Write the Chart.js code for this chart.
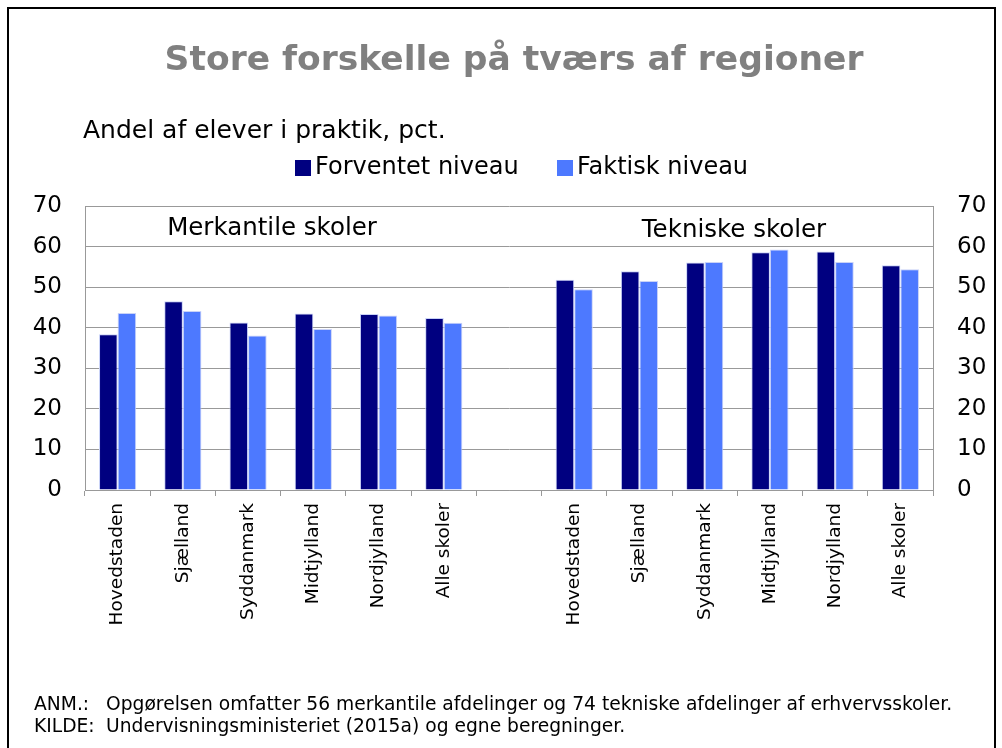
<!DOCTYPE html>
<html>
<head>
<meta charset="utf-8">
<script src="https://cdn.jsdelivr.net/npm/chart.js@4.4.1/dist/chart.umd.min.js"></script>
<style>
  html, body { margin: 0; padding: 0; background: #fff; }
  #wrap { width: 1002px; height: 748px; }
</style>
</head>
<body>
<div id="wrap"><canvas id="chart" width="1002" height="748"></canvas></div>
<script>
var categories = [
  "Hovedstaden", "Sjælland", "Syddanmark", "Midtjylland", "Nordjylland", "Alle skoler",
  "",
  "Hovedstaden", "Sjælland", "Syddanmark", "Midtjylland", "Nordjylland", "Alle skoler"
];
var forventet = [38.4, 46.5, 41.3, 43.5, 43.4, 42.4, null, 51.8, 53.9, 56.1, 58.6, 58.8, 55.4];
var faktisk = [43.6, 44.1, 38.1, 39.7, 43.0, 41.2, null, 49.5, 51.5, 56.2, 59.3, 56.2, 54.4];
var seriesNames = ["Forventet niveau", "Faktisk niveau"];
var seriesColors = ["#000080", "#4d79ff"];
var groupLabels = ["Merkantile skoler", "Tekniske skoler"];
var yMin = 0, yMax = 70, yStep = 10;

var titleText = "Store forskelle på tværs af regioner";
var subtitleText = "Andel af elever i praktik, pct.";
var notes = [
  ["ANM.:", "Opgørelsen omfatter 56 merkantile afdelinger og 74 tekniske afdelinger af erhvervsskoler."],
  ["KILDE:", "Undervisningsministeriet (2015a) og egne beregninger."]
];

var FONT = "'DejaVu Sans', Verdana, sans-serif";

// draws title, legend, group labels, notes and the frame
var decorations = {
  id: "decorations",
  afterDraw: function (chart) {
    var ctx = chart.ctx;
    ctx.save();

    ctx.strokeStyle = "#000";
    ctx.lineWidth = 2;
    ctx.beginPath();
    ctx.moveTo(8, 748);
    ctx.lineTo(8, 8);
    ctx.lineTo(995, 8);
    ctx.lineTo(995, 748);
    ctx.stroke();

    ctx.textBaseline = "middle";
    ctx.fillStyle = "#808080";
    ctx.textAlign = "center";
    ctx.font = "bold 34.5px " + FONT;
    ctx.fillText(titleText, 514, 61);

    ctx.fillStyle = "#000";
    ctx.textAlign = "left";
    ctx.font = "25px " + FONT;
    ctx.fillText(subtitleText, 83, 131);

    // legend
    ctx.font = "24px " + FONT;
    var lx = [295, 557];
    for (var i = 0; i < seriesNames.length; i++) {
      ctx.fillStyle = seriesColors[i];
      ctx.fillRect(lx[i], 160, 16, 16);
      ctx.fillStyle = "#000";
      ctx.fillText(seriesNames[i], lx[i] + 20, 168);
    }

    // group labels
    ctx.textAlign = "center";
    ctx.font = "24.5px " + FONT;
    ctx.fillText(groupLabels[0], 272, 229);
    ctx.fillText(groupLabels[1], 734, 231);

    // notes
    ctx.textAlign = "left";
    ctx.font = "18.7px " + FONT;
    for (var j = 0; j < notes.length; j++) {
      ctx.fillText(notes[j][0], 34, 705 + j * 22);
      ctx.fillText(notes[j][1], 106, 705 + j * 22);
    }
    ctx.restore();
  }
};

var yTickFont = { family: FONT, size: 23 };

new Chart(document.getElementById("chart"), {
  type: "bar",
  data: {
    labels: categories,
    datasets: [
      {
        label: seriesNames[0],
        data: forventet,
        backgroundColor: seriesColors[0],
        borderColor: "#c9d2f7",
        borderWidth: 1,
        yAxisID: "y"
      },
      {
        label: seriesNames[1],
        data: faktisk,
        backgroundColor: seriesColors[1],
        borderColor: "#c9d2f7",
        borderWidth: 1,
        yAxisID: "y"
      }
    ]
  },
  plugins: [decorations],
  options: {
    responsive: false,
    animation: false,
    layout: { padding: { top: 206, left: 0, right: 0, bottom: 0 } },
    datasets: { bar: { categoryPercentage: 0.57, barPercentage: 1.0 } },
    plugins: {
      legend: { display: false },
      tooltip: { enabled: false }
    },
    scales: {
      x: {
        offset: true,
        grid: {
          offset: true,
          drawOnChartArea: false,
          drawTicks: true,
          tickLength: 6,
          color: "#999"
        },
        border: { color: "#999", width: 1 },
        ticks: {
          autoSkip: false,
          maxRotation: 90,
          minRotation: 90,
          padding: 7,
          color: "#000",
          font: { family: FONT, size: 18.5 }
        },
        afterFit: function (scale) { scale.height = 258; }
      },
      y: {
        position: "left",
        min: yMin,
        max: yMax,
        ticks: { stepSize: yStep, padding: 23, color: "#000", font: yTickFont },
        grid: { color: "#999", drawTicks: false },
        border: { color: "#999", width: 1 },
        afterFit: function (scale) { scale.width = 85; }
      },
      y2: {
        position: "right",
        min: yMin,
        max: yMax,
        ticks: { stepSize: yStep, padding: 24, color: "#000", font: yTickFont },
        grid: { drawOnChartArea: false, drawTicks: false },
        border: { color: "#999", width: 1 },
        afterFit: function (scale) { scale.width = 69; }
      }
    }
  }
});
</script>
</body>
</html>
